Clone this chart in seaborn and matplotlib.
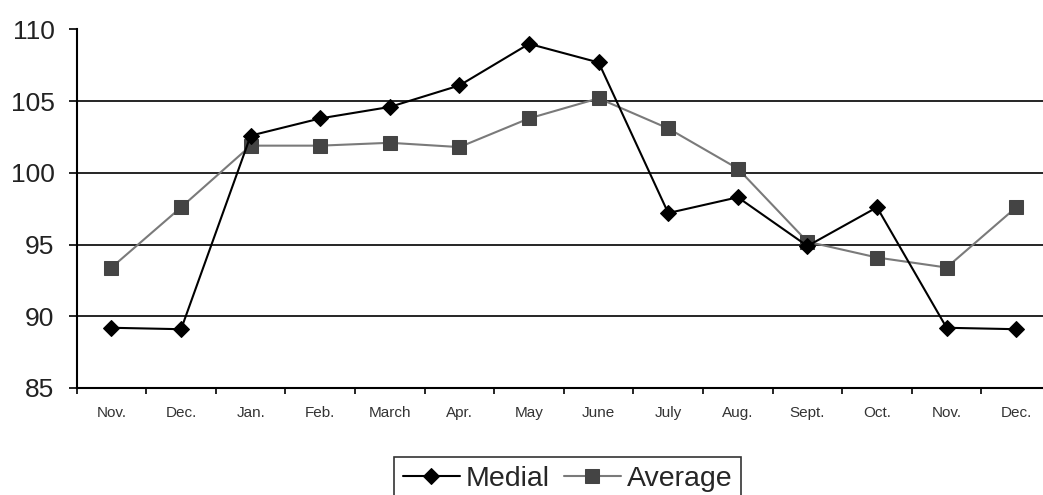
import matplotlib
matplotlib.use("Agg")
import matplotlib.pyplot as plt
import seaborn as sns
import pandas as pd
import numpy as np

months = ["Nov.", "Dec.", "Jan.", "Feb.", "March", "Apr.", "May", "June",
          "July", "Aug.", "Sept.", "Oct.", "Nov.", "Dec."]
medial = [89.2, 89.1, 102.6, 103.8, 104.6, 106.1, 109.0, 107.7,
          97.2, 98.3, 94.9, 97.6, 89.2, 89.1]
average = [93.4, 97.6, 101.9, 101.9, 102.1, 101.8, 103.8, 105.2,
           103.1, 100.3, 95.2, 94.1, 93.4, 97.6]
yticks = [85, 90, 95, 100, 105, 110]

sns.set_theme(style="white")
plt.rcParams['font.family'] = ['Liberation Sans', 'DejaVu Sans']

pos = np.arange(len(months))
df_m = pd.DataFrame({"x": pos, "y": medial})
df_a = pd.DataFrame({"x": pos, "y": average})

fig = plt.figure(figsize=(10.43, 4.95), dpi=100)
W, H = 1043, 495
left, right, top, bottom = 76.7, 1051, 29.5, 388
ax = fig.add_axes([left / W, 1 - bottom / H, (right - left) / W, (bottom - top) / H])

# gridlines
for v in yticks[1:]:
    ax.axhline(v, color="#000000" if v < 110 else "#888888", lw=1.2, zorder=1)

sns.lineplot(data=df_a, x="x", y="y", ax=ax, color="#7a7a7a", lw=1.5,
             marker="s", markersize=9.5, markerfacecolor="#444444",
             markeredgecolor="#444444", label="Average", zorder=3)
sns.lineplot(data=df_m, x="x", y="y", ax=ax, color="#000000", lw=1.5,
             marker="D", markersize=8, markerfacecolor="#000000",
             markeredgecolor="#000000", label="Medial", zorder=4)

ax.set_xlim(-0.5, len(months) - 0.5)
ax.set_ylim(85, 110)
ax.set_yticks(yticks)
ax.set_yticklabels([str(v) for v in yticks], fontsize=19, color="#222222")
ax.set_xticks(pos)
ax.set_xticklabels(months, fontsize=11, color="#333333")
ax.set_xticks(np.arange(len(months) + 1) - 0.5, minor=True)
ax.tick_params(axis="x", which="major", length=0, pad=13)
ax.tick_params(axis="x", which="minor", length=4, width=1.2, color="black", direction="out", bottom=True)
ax.tick_params(axis="y", which="major", length=6, width=1.2, color="black", direction="out", pad=10, left=True)
ax.set_xlabel("")
ax.set_ylabel("")

for s in ["top", "right"]:
    ax.spines[s].set_visible(False)
for s in ["left", "bottom"]:
    ax.spines[s].set_color("black")
    ax.spines[s].set_linewidth(1.5)

handles, labels = ax.get_legend_handles_labels()
order = [labels.index("Medial"), labels.index("Average")]
leg = fig.legend([handles[i] for i in order], [labels[i] for i in order],
                 loc="upper center", bbox_to_anchor=(567.5 / W, 1 - 457 / H),
                 ncol=2, fontsize=20.5, frameon=True, fancybox=False,
                 handlelength=2.0, handletextpad=0.2, columnspacing=0.5,
                 borderpad=0.3, borderaxespad=0)
leg.get_frame().set_edgecolor("black")
leg.get_frame().set_linewidth(1.2)
if ax.get_legend() is not None:
    ax.get_legend().remove()

fig.savefig("out.png", dpi=100)
